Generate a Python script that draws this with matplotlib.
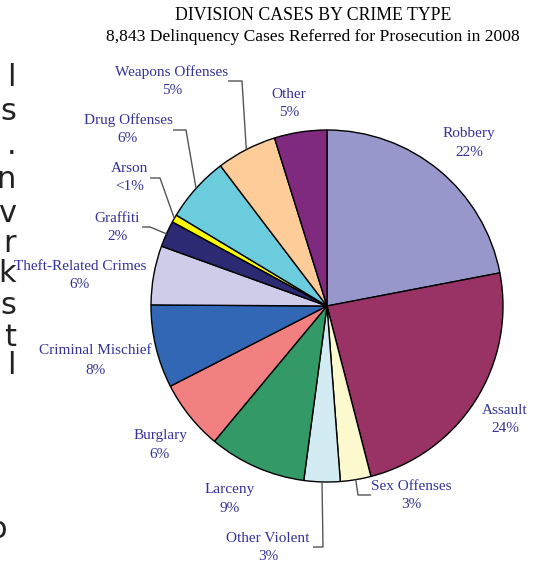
import numpy as np
import matplotlib
matplotlib.use("Agg")
import matplotlib.pyplot as plt

W, H = 536, 563

categories = ["Robbery", "Assault", "Sex Offenses", "Other Violent", "Larceny",
              "Burglary", "Criminal Mischief", "Theft-Related Crimes", "Graffiti",
              "Arson", "Drug Offenses", "Weapons Offenses", "Other"]
shares = [21.9, 23.9, 2.8, 3.3, 8.9, 6.4, 7.6, 5.4, 2.4, 0.7, 6.0, 5.5, 4.8]
pct_labels = ["22%", "24%", "3%", "3%", "9%", "6%", "8%", "6%", "2%", "<1%", "6%", "5%", "5%"]
colors = ["#9797CB", "#993366", "#FCF9CE", "#D3ECF3", "#339966", "#F28080",
          "#3167B4", "#CECCE8", "#2B2A72", "#FFFF00", "#6ACCDC", "#FDCC99", "#7F2A7F"]

# label anchor positions in pixels (x, y of name line)
label_pos = {
    "Robbery": (469, 133), "Assault": (505, 410), "Sex Offenses": (411, 486),
    "Other Violent": (268, 538), "Larceny": (230, 490), "Burglary": (160, 436),
    "Criminal Mischief": (95, 351), "Theft-Related Crimes": (80, 266),
    "Graffiti": (117, 218), "Arson": (130, 168), "Drug Offenses": (128, 120),
    "Weapons Offenses": (172, 72), "Other": (289, 94),
}
# leader lines: (start, elbow) in pixels, end on the wedge edge
leaders = {
    "Weapons Offenses": [(228, 81), (242, 81)],
    "Drug Offenses": [(173, 130), (186, 130)],
    "Arson": [(150, 178), (160, 178)],
    "Graffiti": [(142, 227), (150, 227)],
    "Other Violent": [(313, 547), (323, 547)],
    "Sex Offenses": [(371, 495), (358, 495)],
}

cx, cy, r = 327, 306, 176


def py(y):
    return H - y


fig = plt.figure(figsize=(W / 100, H / 100), dpi=100)
ax = fig.add_axes([0, 0, 1, 1])
wedges, _ = ax.pie(shares, colors=colors, startangle=90, counterclock=False,
                   radius=r, center=(cx, py(cy)),
                   wedgeprops=dict(edgecolor="black", linewidth=1.0))
ax.set_xlim(0, W)
ax.set_ylim(0, H)
ax.set_aspect("equal")
ax.axis("off")

serif = ["Liberation Serif", "DejaVu Serif"]
lab_color = "#333399"

for i, name in enumerate(categories):
    x, y = label_pos[name]
    ax.text(x, py(y), name, ha="center", va="center", fontsize=11,
            family=serif, color=lab_color)
    ax.text(x, py(y + 19), pct_labels[i], ha="center", va="center", fontsize=11,
            family=serif, color=lab_color)
    if name in leaders:
        w = wedges[i]
        mid = np.deg2rad((w.theta1 + w.theta2) / 2)
        ex, ey = cx + r * np.cos(mid), py(cy) + r * np.sin(mid)
        (x0, y0), (x1, y1) = leaders[name]
        ax.plot([x0, x1, ex], [py(y0), py(y1), ey], color="#555555", lw=1.0,
                solid_capstyle="butt")

ax.text(313, py(15), "DIVISION CASES BY CRIME TYPE", ha="center", va="center",
        fontsize=12.8, family=serif, color="black")
ax.text(313, py(37), "8,843 Delinquency Cases Referred for Prosecution in 2008",
        ha="center", va="center", fontsize=12.6, family=serif, color="black")

# clipped text fragments at the left edge of the page
edge_chars = ["l", "s", ".", "n", "v", "r", "k", "s", "t", "l"]
edge_y = [78, 112, 146, 180, 213, 243, 274, 306, 337, 366]
for ch, y in zip(edge_chars, edge_y):
    ax.text(16, py(y), ch, ha="right", va="center", fontsize=22,
            family="DejaVu Sans", color="#222222")
ax.text(7, py(530), "o", ha="right", va="center", fontsize=22,
        family="DejaVu Sans", color="#222222")

fig.savefig("out.png", dpi=100)
